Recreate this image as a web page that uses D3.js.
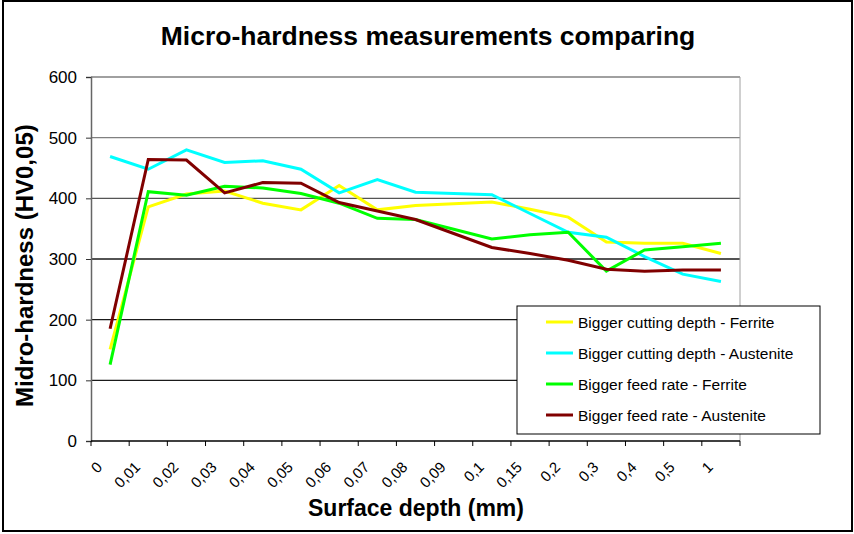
<!DOCTYPE html>
<html>
<head>
<meta charset="utf-8">
<script src="https://cdn.jsdelivr.net/npm/d3@7"></script>
<style>
  body { margin: 0; background: #fff; }
  text { font-family: "Liberation Sans", Arial, sans-serif; fill: #000; }
</style>
</head>
<body>
<div id="chart"></div>
<script>
// categories (surface depth, mm) as printed on the axis
var depths = ["0", "0,01", "0,02", "0,03", "0,04", "0,05", "0,06", "0,07", "0,08", "0,09",
              "0,1", "0,15", "0,2", "0,3", "0,4", "0,5", "1"];

// micro-hardness HV0,05
var cutDepthFerrite   = [151, 386, 407, 412, 392, 381, 421, 381, 388, 391, 394, 382, 369, 328, 326, 326, 309];
var cutDepthAustenite = [469, 448, 480, 459, 462, 448, 409, 431, 410, 408, 406, 375, 344, 336, 304, 275, 263];
var feedFerrite       = [126, 411, 405, 420, 417, 408, 392, 367, 365, 349, 333, 340, 344, 280, 315, 320, 326];
var feedAustenite     = [185, 464, 463, 409, 426, 425, 393, 379, 365, 342, 319, 309, 298, 283, 280, 282, 282];

var seriesNames = ["Bigger cutting depth - Ferrite", "Bigger cutting depth - Austenite",
                   "Bigger feed rate - Ferrite", "Bigger feed rate - Austenite"];
var seriesColors = ["#ffff00", "#00ffff", "#00ff00", "#800000"];
var seriesValues = [cutDepthFerrite, cutDepthAustenite, feedFerrite, feedAustenite];

var yTicks = [0, 100, 200, 300, 400, 500, 600];

var width = 854, height = 534;
var plotLeft = 91, plotRight = 740, plotTop = 77, plotBottom = 441;

var svg = d3.select("#chart").append("svg")
  .attr("width", width)
  .attr("height", height);

// outer chart frame
svg.append("rect")
  .attr("x", 3).attr("y", 1)
  .attr("width", 849).attr("height", 530)
  .style("fill", "#fff")
  .style("stroke", "#000")
  .style("stroke-width", 2);

var x = d3.scaleBand()
  .domain(depths)
  .range([plotLeft, plotRight])
  .padding(0);

var y = d3.scaleLinear()
  .domain([0, 600])
  .range([plotBottom, plotTop]);

// gridlines
svg.append("g")
  .selectAll("line")
  .data(yTicks.filter(function(d) { return d > 0; }))
  .enter().append("line")
  .attr("x1", plotLeft).attr("x2", plotRight)
  .attr("y1", function(d) { return y(d); })
  .attr("y2", function(d) { return y(d); })
  .style("stroke", function(d) { return d >= 500 ? "#808080" : (d == 400 ? "#555" : "#1a1a1a"); })
  .style("stroke-width", 1.3);

// right edge of plot area
svg.append("line")
  .attr("x1", plotRight).attr("x2", plotRight)
  .attr("y1", plotTop).attr("y2", plotBottom)
  .style("stroke", "#a0a0a0")
  .style("stroke-width", 1);

// y axis
var yAxis = svg.append("g")
  .attr("transform", "translate(" + plotLeft + ",0)")
  .call(d3.axisLeft(y).tickValues(yTicks).tickSize(5).tickPadding(9).tickFormat(d3.format("d")));
yAxis.select(".domain").style("stroke", "#666").style("stroke-width", 1.5);
yAxis.selectAll(".tick line").style("stroke", "#333");
yAxis.selectAll(".tick text")
  .style("font-size", "17px")
  .style("font-family", "Liberation Sans, Arial, sans-serif");

// x axis: ticks on category boundaries
var xAxisG = svg.append("g");
xAxisG.append("line")
  .attr("x1", plotLeft).attr("x2", plotRight)
  .attr("y1", plotBottom).attr("y2", plotBottom)
  .style("stroke", "#000").style("stroke-width", 1.5);
var bounds = depths.map(function(d) { return x(d); }).concat([plotRight]);
xAxisG.selectAll("line.tk")
  .data(bounds)
  .enter().append("line")
  .attr("class", "tk")
  .attr("x1", function(d) { return d; }).attr("x2", function(d) { return d; })
  .attr("y1", plotBottom).attr("y2", plotBottom + 5)
  .style("stroke", "#000").style("stroke-width", 1);
xAxisG.selectAll("text")
  .data(depths)
  .enter().append("text")
  .attr("transform", function(d) {
    return "translate(" + (x(d) + x.bandwidth() / 2 - 7) + ",468) rotate(-45)";
  })
  .style("text-anchor", "end")
  .style("font-size", "15px")
  .text(function(d) { return d; });

// lines
var line = d3.line()
  .x(function(d, i) { return x(depths[i]) + x.bandwidth() / 2; })
  .y(function(d) { return y(d); });

svg.append("g")
  .selectAll("path")
  .data(seriesValues)
  .enter().append("path")
  .attr("d", line)
  .style("fill", "none")
  .style("stroke", function(d, i) { return seriesColors[i]; })
  .style("stroke-width", 3)
  .style("stroke-linejoin", "miter");

// title
svg.append("text")
  .attr("x", 428).attr("y", 45)
  .style("text-anchor", "middle")
  .style("font-size", "26.5px")
  .style("font-weight", "bold")
  .text("Micro-hardness measurements comparing");

// axis titles
svg.append("text")
  .attr("x", 416).attr("y", 516)
  .style("text-anchor", "middle")
  .style("font-size", "23px")
  .style("font-weight", "bold")
  .text("Surface depth (mm)");

svg.append("text")
  .attr("transform", "translate(33,407) rotate(-90)")
  .style("text-anchor", "start")
  .style("font-size", "24px")
  .style("font-weight", "bold")
  .text("Midro-hardness (HV0,05)");

// legend
var legend = svg.append("g");
legend.append("rect")
  .attr("x", 517).attr("y", 306)
  .attr("width", 303).attr("height", 128)
  .style("fill", "#fff")
  .style("stroke", "#000")
  .style("stroke-width", 1);
var rows = legend.selectAll("g.row")
  .data(seriesNames)
  .enter().append("g")
  .attr("class", "row")
  .attr("transform", function(d, i) { return "translate(0," + (322 + i * 31) + ")"; });
rows.append("line")
  .attr("x1", 546).attr("x2", 573)
  .attr("y1", 0).attr("y2", 0)
  .style("stroke", function(d, i) { return seriesColors[i]; })
  .style("stroke-width", 3);
rows.append("text")
  .attr("x", 578).attr("y", 5.5)
  .style("font-size", "15.5px")
  .text(function(d) { return d; });
</script>
</body>
</html>
